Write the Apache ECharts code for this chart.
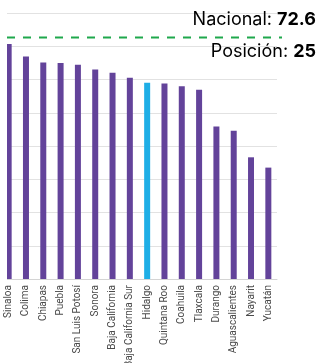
<!DOCTYPE html>
<html>
<head>
<meta charset="utf-8">
<script src="https://cdn.jsdelivr.net/npm/echarts@6/dist/echarts.min.js"></script>
<style>
  html, body { margin: 0; padding: 0; background: #ffffff; }
  #chart { width: 322px; height: 363px; }
</style>
</head>
<body>
<div id="chart"></div>
<script>
// States and their index values
const estados = ['Sinaloa', 'Colima', 'Chiapas', 'Puebla', 'San Luis Potosí', 'Sonora',
  'Baja California', 'Baja California Sur', 'Hidalgo', 'Quintana Roo', 'Coahuila',
  'Tlaxcala', 'Durango', 'Aguascalientes', 'Nayarit', 'Yucatán'];
const valores = [70.7, 66.9, 65.1, 65.0, 64.4, 63.0, 62.0, 60.5, 59.0, 58.8, 58.0,
  56.9, 45.9, 44.6, 36.6, 33.5];
const destacado = 'Hidalgo';
const nacional = 72.6;
const posicion = 25;
const yTicks = [0, 10, 20, 30, 40, 50, 60, 70, 80];

const PURPLE = '#63439a';
const BLUE = '#1eaee6';
const GREEN = '#1fa84c';
const TEXT_FONT = 'Inter';

const chart = echarts.init(document.getElementById('chart'), null, { renderer: 'canvas' });

const option = {
  animation: false,
  backgroundColor: '#ffffff',
  grid: {
    left: 0, right: 45, top: 13, bottom: 84,
    containLabel: false,
    outerBoundsMode: 'none'
  },
  xAxis: {
    type: 'category',
    data: estados,
    axisLine: { show: true, lineStyle: { color: '#d4d4d4', width: 1 } },
    axisTick: { show: false },
    axisLabel: {
      rotate: 90,
      interval: 0,
      margin: 6,
      fontFamily: 'Roboto',
      fontSize: 10,
      color: '#4a4a4a'
    }
  },
  yAxis: {
    type: 'value',
    min: yTicks[0],
    max: yTicks[yTicks.length - 1],
    interval: yTicks[1] - yTicks[0],
    axisLine: { show: false },
    axisTick: { show: false },
    axisLabel: { show: false },
    splitLine: { show: true, lineStyle: { color: '#e2e2e2', width: 1 } }
  },
  series: [{
    type: 'bar',
    barWidth: 6,
    data: valores.map((v, i) => ({
      value: v,
      itemStyle: { color: estados[i] === destacado ? BLUE : PURPLE }
    }))
  }]
};

chart.setOption(option);

// National reference line and summary labels, placed through the chart's scales
const yNac = chart.convertToPixel({ yAxisIndex: 0 }, nacional);
const richText = {
  n: { fontFamily: TEXT_FONT, fontSize: 18, color: '#2b2b2b' },
  b: { fontFamily: TEXT_FONT, fontSize: 18, fontWeight: 'bold', color: '#2b2b2b' }
};
chart.setOption({
  graphic: [
    {
      type: 'rect',
      shape: { x: 0, y: 0, width: 7, height: 281 },
      style: { fill: '#ffffff' },
      z: 50
    },
    {
      type: 'line',
      shape: { x1: 7, y1: yNac, x2: 282, y2: yNac },
      style: { stroke: GREEN, lineWidth: 2, lineDash: [8, 8] },
      z: 60
    },
    {
      type: 'text',
      x: 316, y: 20,
      style: {
        text: '{n|Nacional: }{b|' + nacional.toFixed(1) + '}',
        align: 'right',
        verticalAlign: 'middle',
        rich: richText
      },
      z: 60
    },
    {
      type: 'text',
      x: 316, y: 52,
      style: {
        text: '{n|Posición: }{b|' + posicion + '}',
        align: 'right',
        verticalAlign: 'middle',
        rich: richText
      },
      z: 60
    }
  ]
});
</script>
</body>
</html>
